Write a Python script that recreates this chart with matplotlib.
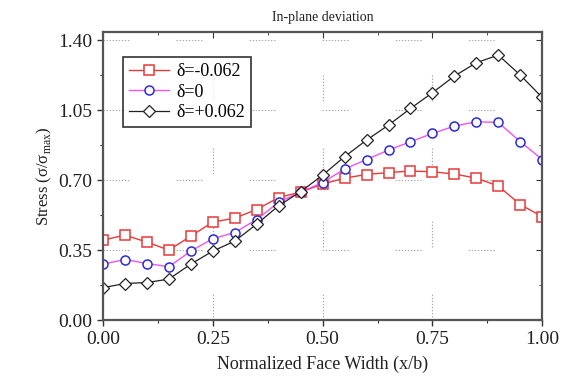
import matplotlib
matplotlib.use("Agg")
from matplotlib import pyplot as plt
from matplotlib.ticker import MultipleLocator

plt.rcParams['font.family'] = ['Liberation Serif', 'DejaVu Serif']
plt.rcParams['mathtext.fontset'] = 'custom'
plt.rcParams['mathtext.rm'] = 'Liberation Serif'
plt.rcParams['lines.scale_dashes'] = False

# normalized face width positions
x = [0.00, 0.05, 0.10, 0.15, 0.20, 0.25, 0.30, 0.35, 0.40, 0.45, 0.50,
     0.55, 0.60, 0.65, 0.70, 0.75, 0.80, 0.85, 0.90, 0.95, 1.00]

stress_neg = [0.400, 0.425, 0.390, 0.350, 0.420, 0.490, 0.510, 0.553, 0.613, 0.640, 0.680,
              0.710, 0.728, 0.738, 0.745, 0.742, 0.730, 0.710, 0.670, 0.578, 0.517]
stress_zero = [0.280, 0.303, 0.283, 0.267, 0.345, 0.407, 0.438, 0.503, 0.590, 0.640, 0.688,
               0.755, 0.803, 0.850, 0.892, 0.933, 0.970, 0.992, 0.988, 0.892, 0.803]
stress_pos = [0.162, 0.183, 0.188, 0.205, 0.280, 0.345, 0.395, 0.480, 0.572, 0.642, 0.725,
              0.817, 0.900, 0.975, 1.058, 1.137, 1.220, 1.287, 1.325, 1.225, 1.113]

labels = ['δ=-0.062', 'δ=0', 'δ=+0.062']
xticks = [0.00, 0.25, 0.50, 0.75, 1.00]
yticks = [0.00, 0.35, 0.70, 1.05, 1.40]

fig = plt.figure(figsize=(5.72, 3.82), dpi=100)
ax = fig.add_axes([0.180, 0.162, 0.768, 0.754])

ax.plot(x, stress_neg, color='#e8393a', lw=1.0, marker='s', ms=6.5,
        mfc='white', mec='#e8393a', mew=1.1, label=labels[0])
ax.plot(x, stress_zero, color='#ee55ee', lw=1.0, marker='o', ms=6.5,
        mfc='white', mec='#2b2bd8', mew=1.1, label=labels[1])
ax.plot(x, stress_pos, color='#222222', lw=0.9, marker='D', ms=6.5,
        mfc='white', mec='#222222', mew=0.9, label=labels[2])

ax.set_xlim(0, 1.0)
ax.set_ylim(0, 1.44)
ax.set_xticks(xticks)
ax.set_yticks(yticks)
ax.xaxis.set_minor_locator(MultipleLocator(0.125))
ax.yaxis.set_minor_locator(MultipleLocator(0.175))
ax.set_xticklabels(['%.2f' % v for v in xticks])
ax.set_yticklabels(['%.2f' % v for v in yticks])
ax.tick_params(which='major', direction='out', length=4, width=1.0,
               labelsize=14, colors='#333333', labelcolor='#222222')
ax.tick_params(which='minor', direction='out', length=2.5, width=0.8, colors='#333333')

# mirrored inward ticks on top and right
top = ax.secondary_xaxis('top')
top.set_xticks(xticks)
top.xaxis.set_minor_locator(MultipleLocator(0.125))
top.tick_params(which='both', direction='in', labeltop=False, colors='#333333')
top.tick_params(which='major', length=4)
top.tick_params(which='minor', length=2.5)
right = ax.secondary_yaxis('right')
right.set_yticks(yticks)
right.yaxis.set_minor_locator(MultipleLocator(0.175))
right.tick_params(which='both', direction='in', labelright=False, colors='#333333')
right.tick_params(which='major', length=4)
right.tick_params(which='minor', length=2.5)
for s in list(top.spines.values()) + list(right.spines.values()):
    s.set_visible(False)

for s in ax.spines.values():
    s.set_linewidth(1.6)
    s.set_color('#555555')

dots = (0, (1.0, 1.2) * 8 + (1.0, 34.0))
ax.grid(True, which='major', color='#aaaaaa', lw=0.8, linestyle=dots)
ax.set_axisbelow(True)

ax.set_xlabel('Normalized Face Width (x/b)', fontsize=13, color='#222222', labelpad=6)
ax.set_ylabel(r'Stress (σ/σ$_{\mathrm{max}}$)', fontsize=12, color='#222222', labelpad=3)
ax.set_title('In-plane deviation', fontsize=10, color='#222222', pad=8)

leg = ax.legend(loc='upper left', bbox_to_anchor=(0.045, 0.915), fontsize=13,
                frameon=True, fancybox=False, edgecolor='black',
                handlelength=2.2, handletextpad=0.4, borderpad=0.35,
                labelspacing=0.2, borderaxespad=0.0)
leg.get_frame().set_linewidth(1.2)

fig.savefig('out.png', dpi=100)
